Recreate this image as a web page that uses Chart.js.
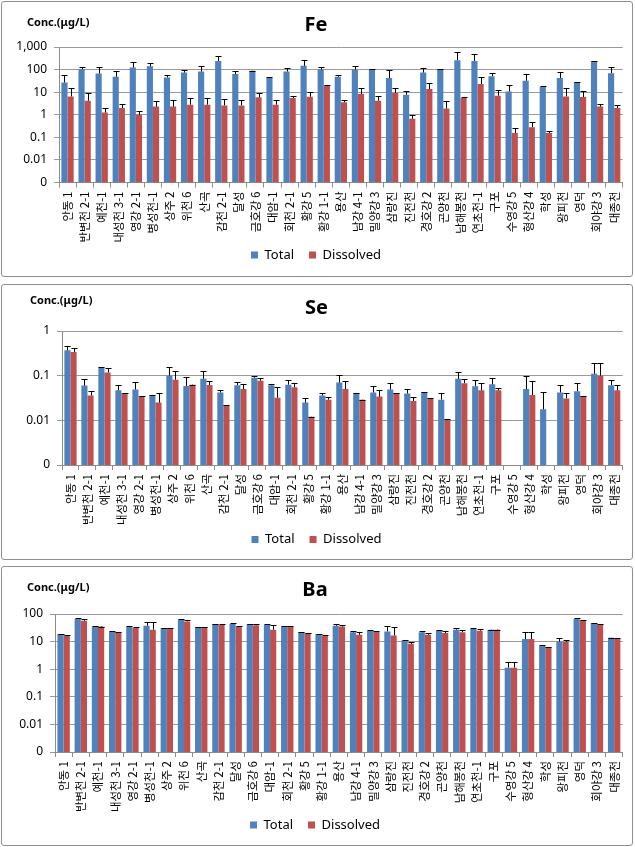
<!DOCTYPE html>
<html>
<head>
<meta charset="utf-8">
<script src="https://cdn.jsdelivr.net/npm/chart.js@4.4.1/dist/chart.umd.min.js"></script>
<style>
body { margin: 0; background: #fff; }
.panel { position: absolute; left: 1px; width: 630px; border: 1px solid #8f8f8f; border-radius: 3px; background: #fff; }
.unit { position: absolute; font: bold 11px "Noto Sans", sans-serif; color: #000; white-space: nowrap; }
</style>
</head>
<body>

<div class="panel" style="top:1px;height:274px">
  <canvas id="fe"></canvas>
  <span class="unit" style="left:25px;top:12px">Conc.(μg/L)</span>
</div>
<div class="panel" style="top:284px;height:274px">
  <canvas id="se"></canvas>
  <span class="unit" style="left:28px;top:7px">Conc.(μg/L)</span>
</div>
<div class="panel" style="top:566px;height:278px">
  <canvas id="ba"></canvas>
  <span class="unit" style="left:25px;top:12px">Conc.(μg/L)</span>
</div>

<script>
// 지점
const sites = ['안동 1', '반변천 2-1', '예천-1', '내성천 3-1', '영강 2-1', '병성천-1', '상주 2', '위천 6', '산곡',
    '감천 2-1', '달성', '금호강 6', '대암-1', '회천 2-1', '황강 5', '황강 1-1', '용산', '남강 4-1', '밀양강 3',
    '삼랑진', '진전천', '경호강 2', '곤양천', '남해봉천', '연초천-1', '구포', '수영강 5', '형산강 4', '학성',
    '왕피천', '영덕', '회야강 3', '대종천'];

// Fe
const feTotal = [27, 105, 67, 48, 123, 140, 45, 74, 82, 242, 63, 88, 42, 82, 146, 100, 48, 100, 105, 42,
    7.7, 74, 105, 260, 242, 51, 10.8, 32, 17.4, 42, 28, 235, 69];
const feTotalErr = [28, 25, 63, 40, 103, 65, 13, 20, 64, 148, 25, 2, 6, 33, 114, 30, 10, 46, 5, 52,
    3.8, 41, 5, 360, 233, 23, 9.2, 31, 1.6, 40, 1, 3, 61];
const feDiss = [6.5, 4.2, 1.25, 2.0, 1.0, 2.3, 2.3, 2.8, 2.8, 2.6, 2.6, 5.9, 2.8, 5.5, 6.3, 20, 3.6, 8.3, 4.2, 9.2,
    0.66, 13.7, 1.9, 5.5, 23, 7, 0.155, 0.28, 0.155, 6.5, 6.1, 2.3, 2.0];
const feDissErr = [8.5, 4.8, 0.75, 1.0, 0.5, 1.9, 2.2, 2.5, 3, 2.2, 1.9, 3.1, 1.7, 1.5, 3.5, 1, 0.9, 6.7, 2.3, 5.8,
    0.34, 11.3, 2, 0.4, 22, 5, 0.105, 0.18, 0.045, 8.5, 5.4, 0.7, 0.8];
const feTicks = [0.001, 0.01, 0.1, 1, 10, 100, 1000];
const feTickLabels = ['0', '0.01', '0.1', '1', '10', '100', '1,000'];

// Se
const seTotal = [0.37, 0.060, 0.155, 0.047, 0.049, 0.036, 0.1, 0.059, 0.085, 0.042, 0.061, 0.09, 0.061, 0.063, 0.025,
    0.036, 0.07, 0.041, 0.042, 0.049, 0.04, 0.043, 0.029, 0.085, 0.058, 0.064, null, 0.05, 0.0176, 0.042, 0.045, 0.11, 0.061];
const seTotalErr = [0.08, 0.025, 0.005, 0.016, 0.022, 0.001, 0.06, 0.034, 0.042, 0.005, 0.01, 0.01, 0.003, 0.018, 0.007,
    0.005, 0.035, 0, 0.016, 0.021, 0.01, 0, 0.012, 0.035, 0.023, 0.026, null, 0.05, 0.025, 0.019, 0.025, 0.08, 0.02];
const seDiss = [0.34, 0.036, 0.118, 0.041, 0.035, 0.025, 0.081, 0.063, 0.062, 0.0216, 0.05, 0.077, 0.032, 0.055, 0.012,
    0.029, 0.05, 0.029, 0.034, 0.041, 0.027, 0.031, 0.0106, 0.068, 0.047, 0.047, null, 0.037, null, 0.031, 0.035, 0.1, 0.047];
const seDissErr = [0.07, 0.009, 0.027, 0, 0, 0.015, 0.049, 0, 0.014, 0, 0.014, 0.011, 0.023, 0.015, 0,
    0.004, 0.026, 0, 0.013, 0, 0.007, 0, 0, 0.017, 0.021, 0.006, null, 0.04, null, 0.009, 0, 0.09, 0.016];
const seTicks = [0.001, 0.01, 0.1, 1];
const seTickLabels = ['0', '0.01', '0.1', '1'];

// Ba
const baTotal = [18.7, 66, 35.6, 23.4, 35.6, 37.6, 31, 62, 33.7, 43, 43, 43, 41, 35.6, 21.6, 18.7, 37.6, 21.6, 24.7, 23.4,
    11, 21.6, 24.7, 27, 28.5, 27, 1.14, 12.3, 7.0, 10, 67.6, 47, 13.7];
const baTotalErr = [0, 4, 0, 0, 0, 13, 0, 2, 0, 1, 4, 1, 2, 0, 0.5, 0.5, 5, 2, 2, 12,
    0.5, 2, 2, 5, 2, 0, 0.66, 9.3, 0.6, 3, 2, 2, 0];
const baDiss = [16.7, 57, 35, 21.6, 31, 27, 31, 54, 33, 40, 35.6, 39, 27, 35.6, 20.3, 16.2, 35, 17.7, 22.2, 16.7,
    8.3, 17.7, 20.3, 22, 24.7, 27, 1.14, 12.3, 6.4, 9.8, 58.8, 42, 13];
const baDissErr = [0, 9, 0, 0, 4, 24, 0, 6, 0, 3, 2, 4, 14, 0, 0, 1, 4, 4, 3, 17,
    1.7, 2, 4, 5, 3, 0, 0.66, 9.3, 0, 2, 4, 2, 0];
const baTicks = [0.001, 0.01, 0.1, 1, 10, 100];
const baTickLabels = ['0', '0.01', '0.1', '1', '10', '100'];

// 오차막대 (위쪽만)
const errorBars = {
    id: 'errorBars',
    afterDatasetsDraw(chart) {
        const ctx = chart.ctx;
        const yScale = chart.scales.y;
        ctx.save();
        ctx.strokeStyle = '#000';
        ctx.lineWidth = 1;
        chart.data.datasets.forEach((ds, i) => {
            chart.getDatasetMeta(i).data.forEach((bar, j) => {
                const v = ds.data[j];
                if (v == null) return;
                const top = Math.round(yScale.getPixelForValue(v + (ds.errorData[j] || 0))) + 0.5;
                const x = Math.round(bar.x) + 0.5;
                ctx.beginPath();
                ctx.moveTo(x, bar.y);
                ctx.lineTo(x, top);
                ctx.moveTo(x - 3, top);
                ctx.lineTo(x + 3, top);
                ctx.stroke();
            });
        });
        ctx.restore();
    }
};

function makeChart(id, title, total, totalErr, diss, dissErr, ticks, tickLabels, yWidth, xHeight, titleGap, pad) {
    return new Chart(document.getElementById(id), {
        type: 'bar',
        data: {
            labels: sites,
            datasets: [{
                label: 'Total',
                data: total,
                errorData: totalErr,
                backgroundColor: '#4f81bd'
            }, {
                label: 'Dissolved',
                data: diss,
                errorData: dissErr,
                backgroundColor: '#c0504d'
            }]
        },
        options: {
            responsive: true,
            maintainAspectRatio: false,
            animation: false,
            categoryPercentage: 0.72,
            barPercentage: 1,
            layout: { padding: pad },
            scales: {
                x: {
                    grid: { drawOnChartArea: false, drawTicks: true, tickLength: 5, color: '#8c8c8c', offset: true },
                    border: { color: '#8c8c8c' },
                    ticks: {
                        autoSkip: false, minRotation: 90, maxRotation: 90, padding: 4, color: '#000',
                        font: { family: '"Noto Sans CJK KR", sans-serif', size: 11.5 }
                    },
                    afterFit: (scale) => { scale.height = xHeight; }
                },
                y: {
                    type: 'logarithmic',
                    min: ticks[0],
                    max: ticks[ticks.length - 1],
                    grid: { color: '#9a9a9a', tickLength: 5 },
                    border: { color: '#8c8c8c' },
                    afterBuildTicks: (scale) => { scale.ticks = ticks.map(v => ({ value: v })); },
                    ticks: {
                        padding: 7, color: '#000',
                        font: { family: '"Noto Sans", sans-serif', size: 12 },
                        callback: (v, i) => tickLabels[i]
                    },
                    afterFit: (scale) => { scale.width = yWidth; }
                }
            },
            plugins: {
                title: {
                    display: true,
                    text: title,
                    color: '#000',
                    font: { family: '"Noto Sans", sans-serif', size: 20, weight: 'bold' },
                    padding: { top: 11, bottom: titleGap }
                },
                legend: {
                    position: 'bottom',
                    labels: {
                        boxWidth: 7, boxHeight: 7, color: '#000', padding: 2,
                        font: { family: '"Noto Sans", sans-serif', size: 13 },
                        generateLabels: (chart) => Chart.defaults.plugins.legend.labels.generateLabels(chart)
                            .map((item, i) => Object.assign(item, { text: i === 0 ? item.text + '\u2002\u2002' : item.text }))
                    }
                },
                tooltip: { enabled: false }
            }
        },
        plugins: [errorBars]
    });
}

makeChart('fe', 'Fe', feTotal, feTotalErr, feDiss, feDissErr, feTicks, feTickLabels, 57, 64, 10, { top: 0, right: 2, bottom: 4.5, left: 0 });
makeChart('se', 'Se', seTotal, seTotalErr, seDiss, seDissErr, seTicks, seTickLabels, 60, 66, 11, { top: 0, right: 1, bottom: 3, left: 0 });
makeChart('ba', 'Ba', baTotal, baTotalErr, baDiss, baDissErr, baTicks, baTickLabels, 53, 64.5, 12, { top: 0, right: 4, bottom: 3.5, left: 0 });
</script>
</body>
</html>
